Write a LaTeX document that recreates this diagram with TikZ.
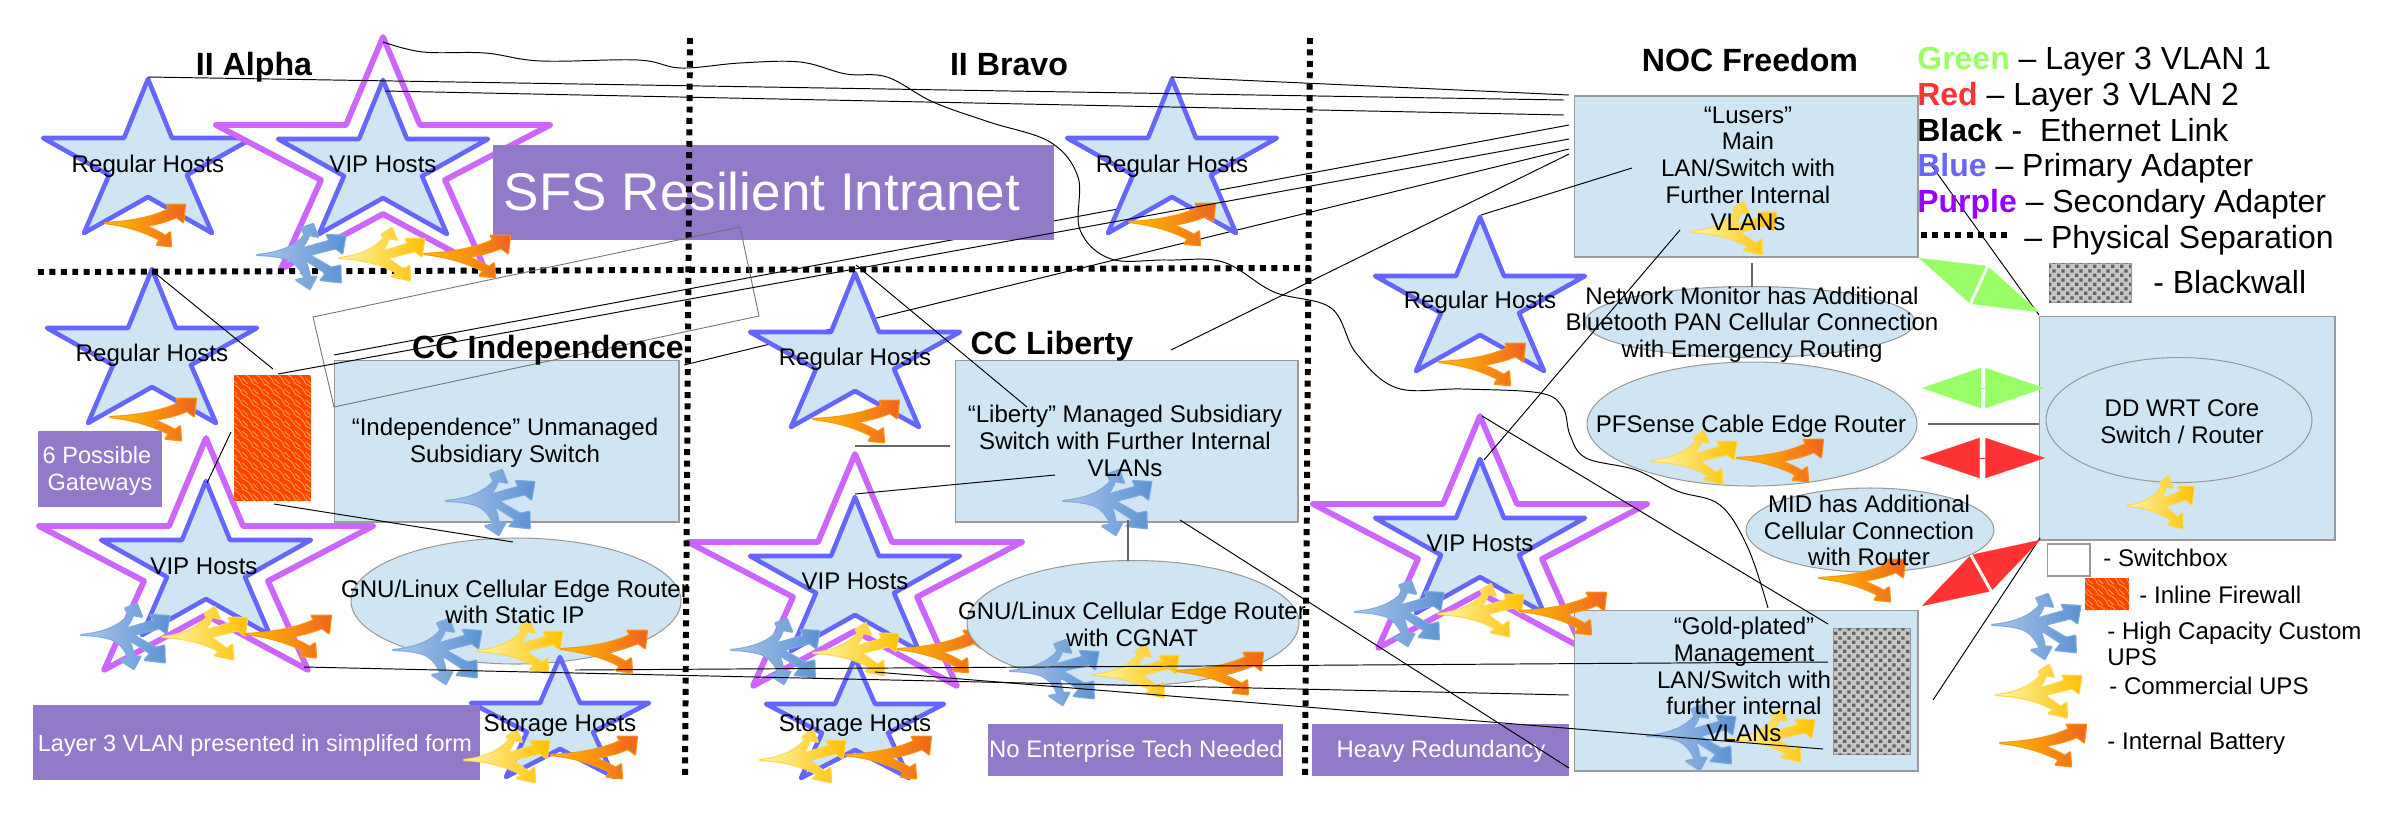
\documentclass[tikz,border=0pt]{standalone}
\usepackage{fontspec}
\setmainfont{Liberation Sans}
\usetikzlibrary{shapes.geometric,patterns,arrows.meta,calc}

\definecolor{boxblue}{HTML}{CFE5F3}
\definecolor{boxline}{HTML}{9A9A9A}
\definecolor{tagpurple}{HTML}{937AC8}
\definecolor{adapterblue}{HTML}{6666FF}
\definecolor{adapterpurple}{HTML}{CC66FF}
\definecolor{vlangreen}{HTML}{99FF66}
\definecolor{vlanred}{HTML}{FF3333}
\definecolor{txtpurple}{HTML}{9900FF}
\definecolor{fwred}{HTML}{FF4500}
\definecolor{upsblue}{HTML}{7EAADE}
\definecolor{upsyellow}{HTML}{FFD650}
\definecolor{upsorange}{HTML}{F89614}

\pgfdeclarepatternformonly{scallops}{\pgfpoint{-1pt}{-1pt}}{\pgfpoint{7pt}{7pt}}{\pgfpoint{6pt}{6pt}}{%
  \pgfsetlinewidth{.45pt}
  \pgfpathmoveto{\pgfpoint{0pt}{6pt}}
  \pgfpathcurveto{\pgfpoint{3pt}{5pt}}{\pgfpoint{5pt}{3pt}}{\pgfpoint{6pt}{0pt}}
  \pgfpathmoveto{\pgfpoint{0pt}{3pt}}
  \pgfpathcurveto{\pgfpoint{1pt}{1.5pt}}{\pgfpoint{1.5pt}{1pt}}{\pgfpoint{3pt}{0pt}}
  \pgfusepath{stroke}}
\pgfdeclarepatternformonly{finecheck}{\pgfpointorigin}{\pgfpoint{5.3pt}{5.3pt}}{\pgfpoint{5.3pt}{5.3pt}}{%
  \pgfpathrectangle{\pgfpointorigin}{\pgfpoint{2pt}{2pt}}
  \pgfpathrectangle{\pgfpoint{2.65pt}{2.65pt}}{\pgfpoint{2pt}{2pt}}
  \pgfusepath{fill}}

\tikzset{
  lbl/.style={align=center,inner sep=0pt,font=\fontsize{13.7}{15.2}\selectfont},
  hostlbl/.style={inner sep=0pt,anchor=base,font=\fontsize{13.7}{15.2}\selectfont},
  lblleft/.style={inner sep=0pt,anchor=base west,align=left,font=\fontsize{13.7}{15.2}\selectfont},
  zonetitle/.style={inner sep=0pt,anchor=base,font=\fontsize{18.3}{20}\selectfont\bfseries},
  legendtxt/.style={inner sep=0pt,anchor=base west,font=\fontsize{18.2}{20}\selectfont},
  switchbox/.style={draw=boxline,fill=boxblue,line width=.6pt,inner sep=0pt},
  routerell/.style={ellipse,draw=boxline,fill=boxblue,line width=.6pt,inner sep=0pt},
  tagbox/.style={fill=tagpurple,inner sep=0pt},
  tagtxt/.style={text=white,inner sep=0pt,anchor=base,align=center,font=\fontsize{13.6}{15.2}\selectfont},
  firewall/.style={fill=fwred,postaction={pattern=scallops,pattern color=orange!70!white}},
  blackwall/.style={draw=boxline,fill=black!22,postaction={pattern=finecheck,pattern color=black!62}},
  eth/.style={line width=.55pt},
  ethgray/.style={line width=.7pt,draw=black!60},
  separation/.style={line width=3.4pt,dash pattern=on 3.4pt off 3.1pt},
  upsedge/.style={preaction={draw=#1,line width=1.3pt,line join=round}},
  pics/regularstar/.style={code={
    \draw[fill=boxblue,draw=adapterblue,line width=2.6pt,line join=round]
      (0,0) -- (24,59) -- (105,59) -- (39,96) -- (64,154) -- (0,118) -- (-64,154)
      -- (-39,96) -- (-105,59) -- (-24,59) -- cycle;}},
  pics/storagestar/.style={code={
    \draw[fill=boxblue,draw=adapterblue,line width=2.6pt,line join=round]
      (0,0) -- (20,46) -- (89,46) -- (33,75) -- (54,120) -- (0,92) -- (-54,120)
      -- (-33,75) -- (-89,46) -- (-20,46) -- cycle;}},
  pics/vipstar/.style={code={
    \draw[fill=white,draw=adapterpurple,line width=3.3pt,line join=round]
      (0,0) -- (37,88) -- (167,88) -- (62,143) -- (102,232) -- (0,177) -- (-102,232)
      -- (-62,143) -- (-167,88) -- (-37,88) -- cycle;
    \pic at (0,43) {regularstar};}},
  pics/customups/.style={code={
    \shade[upsedge=upsblue,left color={rgb,255:red,172;green,198;blue,234},right color={rgb,255:red,88;green,146;blue,210}]
      (0,0) .. controls (23,-2) and (39,-9) .. (47.7,-20) -- (44.3,-26.7) -- (56,-31) -- (61,-18.3) -- (52,-20)
      .. controls (50,-14) and (47,-9) .. (42.7,-5.7) -- (72.7,-14.3) -- (70,-20) -- (88.3,-19) -- (85.3,-1.7) -- (78.7,-6.7)
      -- (52,0) -- (74.3,12.7) -- (83.3,10.7) -- (83.7,27.3) -- (63.7,25) -- (69.3,18.3)
      -- (47.7,4.3) .. controls (50,10) and (52,16) .. (52.7,21.7) -- (59.3,21.7) -- (52.7,34) -- (39.3,25) -- (47.7,23.3)
      .. controls (44,14) and (38,7) .. (30,4) .. controls (20,1) and (10,0) .. (0,0) -- cycle;}},
  pics/commups/.style={code={
    \shade[upsedge=upsyellow,left color={rgb,255:red,255;green,246;blue,170},right color={rgb,255:red,255;green,192;blue,0}]
      (0,0) .. controls (20,-2) and (36,-9) .. (45,-20) -- (42.7,-23.3) -- (52.7,-30) -- (57.7,-18.3) -- (50,-20)
      .. controls (48,-14) and (45,-9) .. (41,-5.7) -- (69,-14.3) -- (66.7,-19.3) -- (85.3,-19) -- (82.7,-1.7) -- (76,-6.7)
      -- (48,0) -- (65,12) -- (70.3,7.7) -- (71,22.3) -- (52.7,18.3) -- (58,15)
      .. controls (45,7) and (25,1) .. (0,0) -- cycle;}},
  pics/battery/.style={code={
    \shade[upsedge=upsorange,left color={rgb,255:red,255;green,192;blue,0},right color={rgb,255:red,240;green,100;blue,30}]
      (0,0) .. controls (25,-1) and (50,-5) .. (69,-14) -- (66.7,-18.3) -- (86,-18.3) -- (84,-0.7) -- (77,-6)
      .. controls (65,-1) and (55,1) .. (43,3) .. controls (52,6) and (60,10) .. (65,13) -- (70,9.3) -- (71,23.3)
      -- (55.7,21.7) -- (59,17) .. controls (42,8) and (20,2) .. (0,0) -- cycle;}},
}

\newcommand{\vlanlink}[4]{%
  \draw[#1,line width=.1pt,-{Triangle[length=#4pt,width=23pt,fill=#1]}] ($(#2)!.5!(#3)$) -- (#2);
  \draw[#1,line width=.1pt,-{Triangle[length=#4pt,width=23pt,fill=#1]}] ($(#2)!.5!(#3)$) -- (#3);}

\begin{document}
\begin{tikzpicture}[x=.02cm,y=-.02cm]
  \useasboundingbox (0,0) rectangle (2400,816);

  % ends of the ethernet links
  \coordinate (eIndA) at (334,355);
  \coordinate (eIndB) at (684,365);
  \coordinate (eLusA) at (1569,125);
  \coordinate (eLusC) at (1569,149);
  \draw[eth] (eIndA) -- (eLusA);
  \draw[eth] (eIndB) -- (eLusC);

  % hosts
  \pic at (148,79)  {regularstar};
  \pic at (383,37)  {vipstar};
  \pic at (1172,79) {regularstar};
  \pic at (152,269) {regularstar};
  \pic at (206,438) {vipstar};
  \pic at (855,273) {regularstar};
  \pic at (855,454) {vipstar};
  \pic at (1480,217) {regularstar};
  \pic at (1480,416) {vipstar};
  \pic at (897,649) {battery};

  % boxes
  \node[switchbox,minimum width=6.9cm,minimum height=3.24cm]  (swInd) at (506.5,441) {};
  \node[switchbox,minimum width=6.86cm,minimum height=3.24cm] (swLib) at (1126.5,441) {};
  \node[switchbox,minimum width=6.88cm,minimum height=3.22cm] (swLus) at (1746,176.5) {};
  \node[switchbox,minimum width=6.88cm,minimum height=3.22cm] (swGold) at (1746,690.5) {};
  \node[switchbox,minimum width=5.92cm,minimum height=4.48cm] (swCore) at (2187,428) {};
  \node[routerell,minimum width=6.6cm,minimum height=2.52cm]  (rtInd) at (516,601) {};
  \node[routerell,minimum width=6.64cm,minimum height=2.5cm]  (rtLib) at (1133,623) {};
  \node[routerell,minimum width=6.6cm,minimum height=1.42cm]  (rtMon) at (1750,322) {};
  \node[routerell,minimum width=6.6cm,minimum height=2.48cm]  (rtPf) at (1752,424) {};
  \node[routerell,minimum width=4.96cm,minimum height=1.68cm] (rtMid) at (1870,530) {};
  \node[routerell,minimum width=5.32cm,minimum height=2.5cm]  (rtCore) at (2179,420) {};

  \pic at (560,657) {storagestar};
  \pic at (855,658) {storagestar};

  % tags
  \node[tagbox,minimum width=11.22cm,minimum height=1.9cm] (tagSfs) at (773.5,192.5) {};
  \node[tagbox,minimum width=2.48cm,minimum height=1.52cm] (tagSix) at (100,469) {};
  \node[tagbox,minimum width=8.94cm,minimum height=1.5cm]  (tagVlan) at (256.5,742.5) {};
  \node[tagbox,minimum width=5.9cm,minimum height=1.04cm]  (tagEnt) at (1135.5,750) {};
  \node[tagbox,minimum width=5.14cm,minimum height=1.04cm] (tagHeavy) at (1440.5,750) {};
  \node[tagtxt,font=\fontsize{30.2}{32}\selectfont] (txSfs) at (762,210) {SFS Resilient Intranet};
  \node[tagtxt,font=\fontsize{13.4}{15.2}\selectfont] (txSix1) at (97,463) {6 Possible};
  \node[tagtxt,font=\fontsize{13.4}{15.2}\selectfont] (txSix2) at (100,490) {Gateways};
  \node[tagtxt,font=\fontsize{13.35}{15.2}\selectfont] (txVlan) at (255,751) {Layer 3 VLAN presented in simplifed form};
  \node[tagtxt] (txEnt) at (1136,757) {No Enterprise Tech Needed};
  \node[tagtxt] (txHeavy) at (1441,757) {Heavy Redundancy};

  % firewall, blackwall
  \node[firewall,minimum width=1.54cm,minimum height=2.52cm,inner sep=0pt] (fwInd) at (272.5,438) {};
  \node[blackwall,minimum width=1.54cm,minimum height=2.52cm,inner sep=0pt] (bwGold) at (1871.5,691) {};

  % physical separation
  \coordinate (sepA1) at (690,38);
  \coordinate (sepA2) at (685,778);
  \coordinate (sepB1) at (1310,38);
  \coordinate (sepB2) at (1305,778);
  \coordinate (sepH1) at (38,272);
  \coordinate (sepH2) at (1310,268);
  \draw[separation] (sepA1) -- (sepA2);
  \draw[separation] (sepB1) -- (sepB2);
  \draw[separation] (sepH1) -- (sepH2);

  \draw[black!55,line width=.5pt] (313,317) -- (740,227) -- (759,316) -- (334,407) -- cycle;

  % ups and batteries
  \foreach \x/\y in {257/255,81/635,446/501,393/650,731/650,1063/501,1010/671,1355/612,1647/736,1992/625}
    \pic at (\x,\y) {customups};
  \foreach \x/\y in {339/258,162/637,477/651,464/760,1691/232,813/653,1093/675,760/760,1438/614,1651/461,1729/739,1996/695}
    \pic at (\x,\y) {commups};
  \pic[xscale=.78,transform shape] at (2127,506) {commups};
  \pic[xscale=.93,transform shape] at (105,223) {battery};
  \foreach \x/\y in {424/254,1129/222,110/417,245/634,561/649,551/755,813/419,1177/671,845/755,1439/362,1520/611,1737/458,1819/578,2000/743}
    \pic at (\x,\y) {battery};

  % ethernet links
  \coordinate (eAlpha) at (148,77);
  \coordinate (eVipA) at (385,91);
  \coordinate (eLus1) at (1564,100);
  \coordinate (eLus2) at (1564,115);
  \coordinate (eBravo) at (1171,77);
  \coordinate (eLus3) at (1569,95);
  \coordinate (eFw) at (278,374);
  \coordinate (eLus4) at (1569,139);
  \coordinate (eLib) at (1171,350);
  \coordinate (eLus5) at (1569,154);
  \coordinate (eReg) at (1481,215);
  \coordinate (eLus6) at (1632,168);
  \draw[eth] (eAlpha) -- (eLus1);
  \draw[eth] (eVipA) -- (eLus2);
  \draw[eth] (eBravo) -- (eLus3);
  \draw[eth] (eFw) -- (eLus4);
  \draw[eth] (eLib) -- (eLus5);
  \draw[eth] (eReg) -- (eLus6);
  \draw[eth] (155,273) coordinate (eRegI) -- (273,369) coordinate (eFwT);
  \draw[eth] (231,432) coordinate (eFwL) -- (207,483) coordinate (eVipI);
  \draw[eth] (274,504) coordinate (eFwB) -- (513,542) coordinate (eRtI);
  \draw[eth] (304,667) coordinate (eVipB) -- (1569,695) coordinate (eGoldA);
  \draw[eth] (575,670) coordinate (eStoI) -- (1828,662) coordinate (eGoldB);
  \draw[eth] (875,672) coordinate (eStoL) -- (1823,749) coordinate (eGoldC);
  \draw[eth] (856,265) coordinate (eRegL) -- (1027,407) coordinate (eLibA);
  \draw[eth] (855,494) coordinate (eVipL) -- (1055,475) coordinate (eLibB);
  \draw[ethgray] (855,446) coordinate (eRegS) -- (950,446) coordinate (eLibC);
  \draw[ethgray] (1128,520) coordinate (eLibD) -- (1128,561) coordinate (eRtL);
  \draw[eth] (1180,520) coordinate (eLibE) -- (1569,768) coordinate (eGoldD);
  \draw[eth] (1484,460) coordinate (eVipF) -- (1680,230) coordinate (eLusV);
  \draw[eth] (1482,416) coordinate (eVipG) -- (1828,624) coordinate (eGoldE);
  \draw[ethgray] (1752,263) coordinate (eLusB) -- (1752,287) coordinate (eMon);
  \draw[ethgray] (1928,424) coordinate (ePf) -- (2039,424) coordinate (eCoreA);
  \draw[eth] (1929,162) coordinate (eLegend) -- (2039,315) coordinate (eCoreB);
  \draw[eth] (1933,700) coordinate (eGoldF) -- (2040,538) coordinate (eCoreC);
  \draw[eth] plot[smooth,tension=.6] coordinates {(383,42) (423,52) (485,53) (541,61) (638,60) (681,68) (740,63) (800,62)
    (846,74) (887,77) (933,102) (989,122) (1050,142) (1078,177) (1080,230) (1111,259) (1167,260) (1223,262)
    (1274,292) (1331,308) (1356,353) (1397,388) (1463,389) (1540,393) (1563,408) (1570,435) (1586,458)
    (1636,470) (1677,491) (1720,505) (1748,548) (1768,608)};

  % vlan links
  \coordinate (gA1) at (1919,258);
  \coordinate (gA2) at (2039,312);
  \coordinate (gB1) at (1922,388);
  \coordinate (gB2) at (2044,388);
  \coordinate (rA1) at (1920,458);
  \coordinate (rA2) at (2045,458);
  \coordinate (rB1) at (1922,606);
  \coordinate (rB2) at (2040,540);
  \vlanlink{vlangreen}{gA1}{gA2}{36.5}
  \vlanlink{vlangreen}{gB1}{gB2}{33.5}
  \vlanlink{vlanred}{rA1}{rA2}{34}
  \vlanlink{vlanred}{rB1}{rB2}{37.5}

  % zone titles
  \node[zonetitle] (ttAlpha) at (254,75) {II Alpha};
  \node[zonetitle] (ttBravo) at (1009,75) {II Bravo};
  \node[zonetitle] (ttNoc) at (1750,71) {NOC Freedom};
  \node[zonetitle] (ttInd) at (548,358) {CC Independence};
  \node[zonetitle] (ttLib) at (1052,354) {CC Liberty};

  % host labels
  \node[hostlbl] (hA1) at (148,172) {Regular Hosts};
  \node[hostlbl] (hA2) at (383,172) {VIP Hosts};
  \node[hostlbl] (hB1) at (1172,172) {Regular Hosts};
  \node[hostlbl] (hI1) at (152,361) {Regular Hosts};
  \node[hostlbl] (hI2) at (204,574) {VIP Hosts};
  \node[hostlbl] (hI3) at (560,731) {Storage Hosts};
  \node[hostlbl] (hL1) at (855,365) {Regular Hosts};
  \node[hostlbl] (hL2) at (855,589) {VIP Hosts};
  \node[hostlbl] (hL3) at (855,731) {Storage Hosts};
  \node[hostlbl] (hF1) at (1480,308) {Regular Hosts};
  \node[hostlbl] (hF2) at (1480,551) {VIP Hosts};
  \node[hostlbl] (lbPf) at (1751,432) {PFSense Cable Edge Router};

  % box labels
  \node[lbl] (lbInd) at (505,442.5) {“Independence” Unmanaged\\Subsidiary Switch};
  \node[lbl] (lbLib) at (1125,441) {“Liberty” Managed Subsidiary\\Switch with Further Internal\\VLANs};
  \node[lbl] (lbLus) at (1748,168.5) {“Lusers”\\Main\\LAN/Switch with\\Further Internal\\VLANs};
  \node[lbl] (lbGold) at (1744,679.5) {“Gold-plated”\\Management\\LAN/Switch with\\further internal\\VLANs};
  \node[lbl] (lbCore) at (2182,422) {DD WRT Core\\Switch / Router};
  \node[lbl] (lbRtI) at (515,602) {GNU/Linux Cellular Edge Router\\with Static IP};
  \node[lbl] (lbRtL) at (1132,624.5) {GNU/Linux Cellular Edge Router\\with CGNAT};
  \node[lbl] (lbMon) at (1752,324.5) {Network Monitor has Additional\\Bluetooth PAN Cellular Connection\\with Emergency Routing};
  \node[lbl] (lbMid) at (1869,530.5) {MID has Additional\\Cellular Connection\\with Router};

  % legend
  \node[legendtxt] (lgGreen) at (1917,69) {\textbf{\textcolor{vlangreen}{Green}} – Layer 3 VLAN 1};
  \node[legendtxt] (lgRed) at (1917,105) {\textbf{\textcolor{vlanred}{Red}} – Layer 3 VLAN 2};
  \node[legendtxt] (lgBlack) at (1917,141) {\textbf{Black} -  \ Ethernet Link};
  \node[legendtxt] (lgBlue) at (1917,176) {\textbf{\textcolor{adapterblue}{Blue}} – Primary Adapter};
  \node[legendtxt] (lgPurple) at (1917,212) {\textbf{\textcolor{txtpurple}{Purple}} – Secondary Adapter};
  \coordinate (lgSep1) at (1921,235);
  \coordinate (lgSep2) at (2008,235);
  \draw[separation] (lgSep1) -- (lgSep2);
  \node[legendtxt] (lgSep) at (2024,248) {– Physical Separation};
  \node[blackwall,minimum width=1.64cm,minimum height=.78cm,inner sep=0pt] (lgBw) at (2090,282.5) {};
  \node[legendtxt] (lgBwTxt) at (2153,293) {- Blackwall};
  \node[draw=boxline,line width=.6pt,minimum width=.86cm,minimum height=.64cm,inner sep=0pt] (lgSw) at (2068.5,560) {};
  \node[lblleft] (lgSwTxt) at (2103,566) {- Switchbox};
  \node[firewall,minimum width=.88cm,minimum height=.64cm,inner sep=0pt] (lgFw) at (2107,594) {};
  \node[lblleft] (lgFwTxt) at (2139,603) {- Inline Firewall};
  \node[lblleft] (lgUps) at (2107,639) {- High Capacity Custom};
  \node[lblleft] (lgUps2) at (2107,665) {UPS};
  \node[lblleft] (lgCom) at (2109,694) {- Commercial UPS};
  \node[lblleft] (lgBat) at (2107,749) {- Internal Battery};
\end{tikzpicture}
\end{document}
